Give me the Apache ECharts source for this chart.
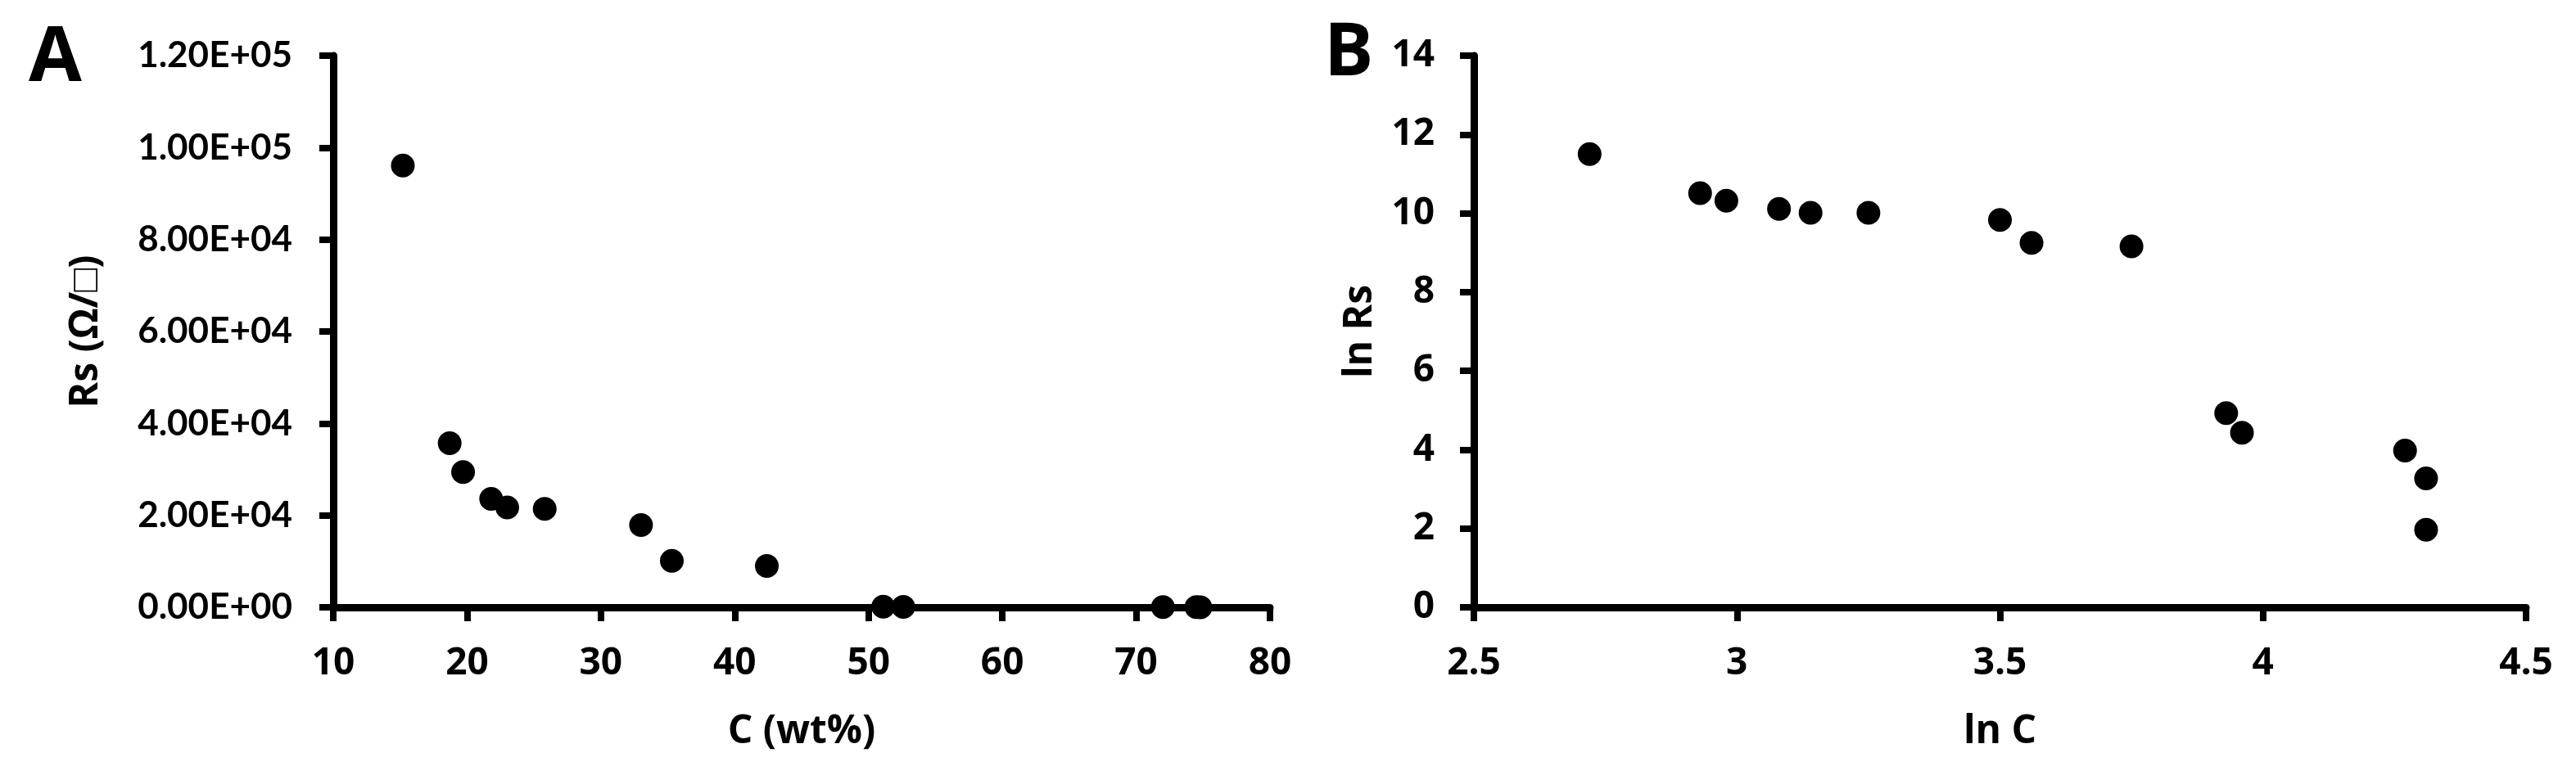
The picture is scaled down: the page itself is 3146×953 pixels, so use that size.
<!DOCTYPE html>
<html>
<head>
<meta charset="utf-8">
<script src="https://cdn.jsdelivr.net/npm/echarts@6/dist/echarts.min.js"></script>
<style>
html,body{margin:0;padding:0;background:#fff;}
#chart{width:3146px;height:953px;}
</style>
</head>
<body>
<div id="chart"></div>
<script>
// Panel A: Rs vs C (wt%)
const carbonWt = [15.2, 18.7, 19.7, 21.8, 23.0, 25.8, 33.0, 35.3, 42.4, 51.1, 52.6, 72.0, 74.5, 74.8];
const sheetRes = [96100, 35700, 29400, 23600, 21700, 21400, 17900, 10100, 9000, 140, 85, 55, 26, 7];
// Panel B: ln Rs vs ln C
const lnC  = [2.72, 2.93, 2.98, 3.08, 3.14, 3.25, 3.50, 3.56, 3.75, 3.93, 3.96, 4.27, 4.31, 4.31];
const lnRs = [11.50, 10.51, 10.32, 10.11, 10.01, 10.01, 9.83, 9.25, 9.16, 4.93, 4.43, 3.98, 3.27, 1.97];
// Tick labels
const yTickLabelsA = ['0.00E+00','2.00E+04','4.00E+04','6.00E+04','8.00E+04','1.00E+05','1.20E+05'];
const xTickLabelsA = ['10','20','30','40','50','60','70','80'];
const yTickLabelsB = ['0','2','4','6','8','10','12','14'];
const xTickLabelsB = ['2.5','3','3.5','4','4.5'];

const ptsA = carbonWt.map((x, i) => [x, sheetRes[i]]);
const ptsB = lnC.map((x, i) => [x, lnRs[i]]);

const axisLine = {show: true, onZero: false, lineStyle: {color: '#000', width: 9}};
const axisTick = {show: true, inside: false, length: 17, lineStyle: {color: '#000', width: 8}};
const boldLbl = {fontFamily: 'Open Sans', fontWeight: 'bold', fontSize: 46, color: '#000'};
const nameStyle = {fontFamily: 'Open Sans', fontWeight: 'bold', fontSize: 48, color: '#000'};

const chart = echarts.init(document.getElementById('chart'), null, {renderer: 'canvas'});
chart.setOption({
  backgroundColor: '#fff',
  animation: false,
  title: [
    {text: 'A', left: 30, top: 20, textStyle: {fontFamily: 'Open Sans', fontWeight: 'bold', fontSize: 94, color: '#000'}},
    {text: 'B', left: 1612, top: 16, textStyle: {fontFamily: 'Open Sans', fontWeight: 'bold', fontSize: 90, color: '#000'}}
  ],
  grid: [
    {left: 407, right: 3146 - 1551, top: 68, bottom: 953 - 742, containLabel: false},
    {left: 1800, right: 3146 - 3085, top: 68, bottom: 953 - 742, containLabel: false}
  ],
  xAxis: [
    {
      gridIndex: 0, type: 'value', min: 10, max: 80, interval: 10,
      name: 'C (wt%)', nameLocation: 'middle', nameGap: 128, nameTextStyle: nameStyle,
      axisLine, axisTick, splitLine: {show: false},
      axisLabel: Object.assign({margin: 46, formatter: v => xTickLabelsA[Math.round((v - 10) / 10)]}, boldLbl)
    },
    {
      gridIndex: 1, type: 'value', min: 2.5, max: 4.5, interval: 0.5,
      name: 'ln C', nameLocation: 'middle', nameGap: 128, nameTextStyle: nameStyle,
      axisLine, axisTick, splitLine: {show: false},
      axisLabel: Object.assign({margin: 46, formatter: v => xTickLabelsB[Math.round((v - 2.5) / 0.5)]}, boldLbl)
    }
  ],
  yAxis: [
    {
      gridIndex: 0, type: 'value', min: 0, max: 120000, interval: 20000,
      name: 'Rs (Ω/□)', nameLocation: 'middle', nameGap: 278, nameRotate: 90, nameTextStyle: nameStyle,
      axisLine, axisTick, splitLine: {show: false},
      axisLabel: {margin: 50, fontFamily: 'Lato', fontWeight: 'bold', fontSize: 44, color: '#000',
        formatter: v => yTickLabelsA[Math.round(v / 20000)]}
    },
    {
      gridIndex: 1, type: 'value', min: 0, max: 14, interval: 2,
      name: 'ln Rs', nameLocation: 'middle', nameGap: 115, nameRotate: 90, nameTextStyle: nameStyle,
      axisLine, axisTick, splitLine: {show: false},
      axisLabel: Object.assign({margin: 48, formatter: v => yTickLabelsB[Math.round(v / 2)]}, boldLbl)
    }
  ],
  series: [
    {type: 'scatter', xAxisIndex: 0, yAxisIndex: 0, data: ptsA, symbol: 'circle', symbolSize: 29,
     itemStyle: {color: '#000', opacity: 1}, clip: false, z: 5},
    {type: 'scatter', xAxisIndex: 1, yAxisIndex: 1, data: ptsB, symbol: 'circle', symbolSize: 29,
     itemStyle: {color: '#000', opacity: 1}, clip: false, z: 5}
  ]
});
</script>
</body>
</html>
